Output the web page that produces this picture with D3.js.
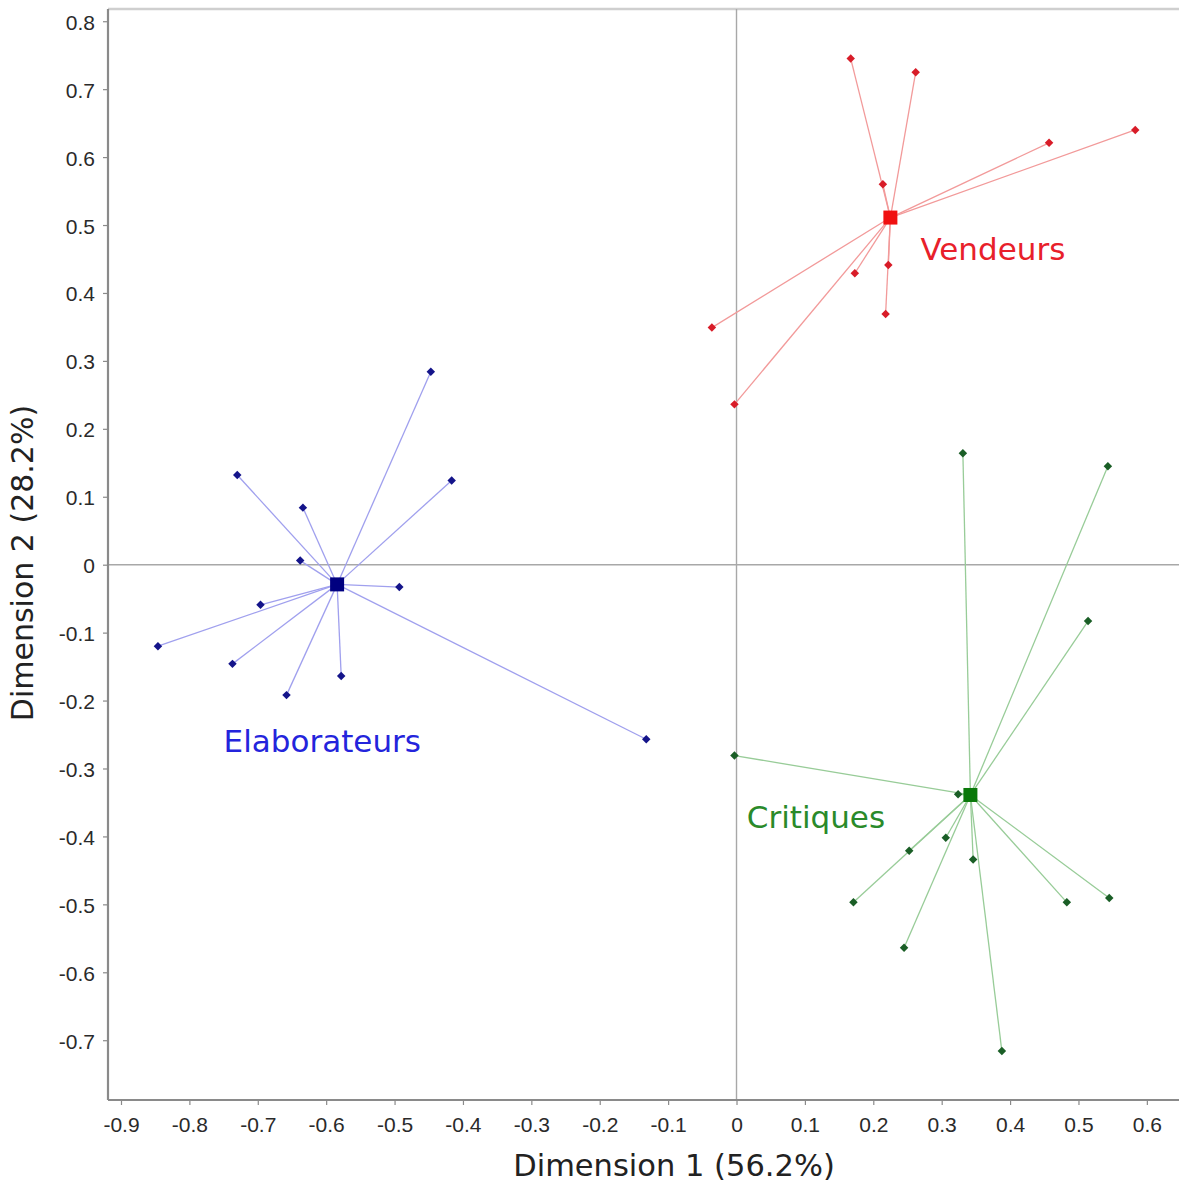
<!DOCTYPE html>
<html>
<head>
<meta charset="utf-8">
<script src="https://cdn.jsdelivr.net/npm/d3@7"></script>
<style>
  html, body { margin: 0; padding: 0; background: #fff; }
  svg { display: block; }
</style>
</head>
<body>
<svg id="chart" width="1179" height="1182"></svg>
<script>
// ---- Data ----
const groups = ["Vendeurs", "Elaborateurs", "Critiques"];

const vendeursX = [0.167, 0.262, 0.457, 0.583, 0.214, 0.222, 0.173, 0.218, -0.036, -0.003];
const vendeursY = [0.745, 0.725, 0.621, 0.640, 0.560, 0.441, 0.429, 0.369, 0.349, 0.236];

const elaborateursX = [-0.447, -0.4165, -0.730, -0.634, -0.638, -0.493, -0.696, -0.846, -0.737, -0.578, -0.658, -0.132];
const elaborateursY = [0.284, 0.124, 0.132, 0.084, 0.006, -0.033, -0.059, -0.120, -0.146, -0.164, -0.192, -0.257];

const critiquesX = [0.331, 0.543, 0.514, -0.003, 0.324, 0.306, 0.2525, 0.346, 0.171, 0.483, 0.245, 0.388, 0.545];
const critiquesY = [0.164, 0.145, -0.083, -0.281, -0.338, -0.402, -0.421, -0.434, -0.497, -0.497, -0.564, -0.716, -0.4905];

const centerX = [0.225, -0.584, 0.342];
const centerY = [0.511, -0.029, -0.339];

const labelX = [0.269, -0.750, 0.015];
const labelY = [0.448, -0.276, -0.388];

const xTicks = [-0.9, -0.8, -0.7, -0.6, -0.5, -0.4, -0.3, -0.2, -0.1, 0, 0.1, 0.2, 0.3, 0.4, 0.5, 0.6];
const yTicks = [-0.7, -0.6, -0.5, -0.4, -0.3, -0.2, -0.1, 0, 0.1, 0.2, 0.3, 0.4, 0.5, 0.6, 0.7, 0.8];

const xTitle = "Dimension 1 (56.2%)";
const yTitle = "Dimension 2 (28.2%)";

// ---- Styles ----
const pointColors  = ["#d81c28", "#14148a", "#1a5e26"];
const centerColors = ["#f01010", "#000080", "#0a780a"];
const lineColors   = ["#f29a9a", "#a0a0ee", "#98cc98"];
const labelColors  = ["#e8202a", "#2424dc", "#2a8a2a"];

const seriesX = [vendeursX, elaborateursX, critiquesX];
const seriesY = [vendeursY, elaborateursY, critiquesY];

// ---- Layout ----
const W = 1179, H = 1182;
const plot = { left: 108, right: 1179, top: 9, bottom: 1100 };

const x = d3.scaleLinear().domain([-0.919, 0.647]).range([plot.left, plot.right]);
const y = d3.scaleLinear().domain([-0.788, 0.818]).range([plot.bottom, plot.top]);

const svg = d3.select("#chart");
const fmt = d => d === 0 ? "0" : d3.format(".1f")(d).replace("\u2212", "-");

// top border (light)
svg.append("line")
  .attr("x1", plot.left).attr("x2", plot.right)
  .attr("y1", plot.top).attr("y2", plot.top)
  .attr("stroke", "#cfcfcf").attr("stroke-width", 2.5);

// zero reference lines
svg.append("line")
  .attr("x1", x(0)).attr("x2", x(0))
  .attr("y1", plot.top).attr("y2", plot.bottom)
  .attr("stroke", "#a8a8a8").attr("stroke-width", 1.4);
svg.append("line")
  .attr("x1", plot.left).attr("x2", plot.right)
  .attr("y1", y(0)).attr("y2", y(0))
  .attr("stroke", "#a8a8a8").attr("stroke-width", 1.4);

// axes
const xAxis = svg.append("g")
  .attr("transform", `translate(0,${plot.bottom})`)
  .call(d3.axisBottom(x).tickValues(xTicks).tickFormat(fmt).tickSize(5).tickPadding(12).tickSizeOuter(0));
const yAxis = svg.append("g")
  .attr("transform", `translate(${plot.left},0)`)
  .call(d3.axisLeft(y).tickValues(yTicks).tickFormat(fmt).tickSize(5).tickPadding(8).tickSizeOuter(0));

[xAxis, yAxis].forEach(a => {
  a.select(".domain").attr("stroke", "#8a8a8a").attr("stroke-width", 2.2);
  a.selectAll(".tick line").attr("stroke", "#8a8a8a").attr("stroke-width", 1.2);
  a.selectAll(".tick text")
    .attr("fill", "#2a2a2a")
    .style("font-family", "'Liberation Sans', Arial, sans-serif")
    .style("font-size", "21px");
});
yAxis.selectAll(".tick text").attr("dy", "0.38em");
xAxis.select(".domain").attr("d", `M${plot.left},0H${plot.right}`);
yAxis.select(".domain").attr("d", `M0,${plot.top}V${plot.bottom}`);

// axis titles
svg.append("text")
  .attr("x", 674).attr("y", 1176)
  .attr("text-anchor", "middle")
  .attr("fill", "#222")
  .style("font-family", "'DejaVu Sans', Verdana, sans-serif")
  .style("font-size", "30.5px")
  .text(xTitle);
svg.append("text")
  .attr("transform", "translate(33,563) rotate(-90)")
  .attr("text-anchor", "middle")
  .attr("fill", "#222")
  .style("font-family", "'DejaVu Sans', Verdana, sans-serif")
  .style("font-size", "30px")
  .text(yTitle);

// groups
const marks = svg.append("g");
groups.forEach((g, gi) => {
  const pts = seriesX[gi].map((vx, i) => ({ x: vx, y: seriesY[gi][i] }));
  const cx = x(centerX[gi]), cy = y(centerY[gi]);
  const grp = marks.append("g").attr("class", "group-" + gi);

  grp.selectAll("line.spoke").data(pts).join("line")
    .attr("class", "spoke")
    .attr("x1", cx).attr("y1", cy)
    .attr("x2", d => x(d.x)).attr("y2", d => y(d.y))
    .attr("stroke", lineColors[gi]).attr("stroke-width", 1.3);

  grp.selectAll("path.pt").data(pts).join("path")
    .attr("class", "pt")
    .attr("d", d3.symbol(d3.symbolSquare, 36)())
    .attr("transform", d => `translate(${x(d.x)},${y(d.y)}) rotate(45)`)
    .attr("fill", pointColors[gi]);

  grp.append("rect")
    .attr("x", cx - 7).attr("y", cy - 7)
    .attr("width", 14).attr("height", 14)
    .attr("fill", centerColors[gi]);

  svg.append("text")
    .attr("x", x(labelX[gi])).attr("y", y(labelY[gi]))
    .attr("fill", labelColors[gi])
    .style("font-family", "'DejaVu Sans', Verdana, sans-serif")
    .style("font-size", "31px")
    .text(g);
});
</script>
</body>
</html>
